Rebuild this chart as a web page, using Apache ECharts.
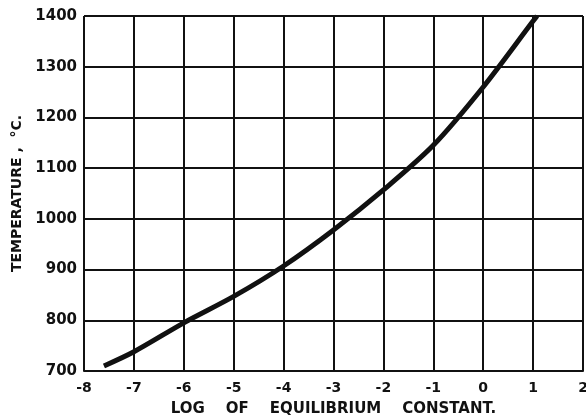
<!DOCTYPE html>
<html>
<head>
<meta charset="utf-8">
<script src="https://cdn.jsdelivr.net/npm/echarts@6/dist/echarts.min.js"></script>
<style>
  html, body { margin: 0; padding: 0; background: #fff; }
  #chart { width: 586px; height: 419px; }
</style>
</head>
<body>
<div id="chart"></div>
<script>
// values
const logK = [-7.6, -7, -6, -5, -4, -3, -2, -1, 0, 1, 1.08];
const tempC = [710, 738, 795, 847, 907, 978, 1057, 1145, 1260, 1390, 1400];

const xName = "LOG    OF    EQUILIBRIUM    CONSTANT.";
const yName = "TEMPERATURE ,  \u00B0C.";

const ink = "#111";
const font = "DejaVu Sans";

const chart = echarts.init(document.getElementById("chart"));
chart.setOption({
  backgroundColor: "#fff",
  animation: false,
  grid: { left: 84, right: 3, top: 16, bottom: 48, outerBoundsMode: "none" },
  xAxis: {
    type: "value",
    min: -8,
    max: 2,
    interval: 1,
    name: xName,
    nameLocation: "middle",
    nameGap: 31,
    nameTextStyle: { color: ink, fontFamily: font, fontWeight: "bold", fontSize: 15 },
    axisLine: { show: true, lineStyle: { color: ink, width: 2 } },
    axisTick: { show: false },
    axisLabel: { color: ink, fontFamily: font, fontWeight: "bold", fontSize: 14, margin: 10 },
    splitLine: { show: true, lineStyle: { color: ink, width: 2 } }
  },
  yAxis: {
    type: "value",
    min: 700,
    max: 1400,
    interval: 100,
    name: yName,
    nameLocation: "middle",
    nameGap: 60,
    nameTextStyle: { color: ink, fontFamily: font, fontWeight: "bold", fontSize: 14 },
    axisLine: { show: true, lineStyle: { color: ink, width: 2 } },
    axisTick: { show: false },
    axisLabel: {
      color: ink, fontFamily: font, fontWeight: "bold", fontSize: 15, margin: 7,
      formatter: (v) => String(v)
    },
    splitLine: { show: true, lineStyle: { color: ink, width: 2 } }
  },
  series: [
    {
      type: "line",
      data: logK.map((x, i) => [x, tempC[i]]),
      smooth: 0.3,
      showSymbol: false,
      lineStyle: { color: ink, width: 5 },
      z: 5
    }
  ]
});
</script>
</body>
</html>
